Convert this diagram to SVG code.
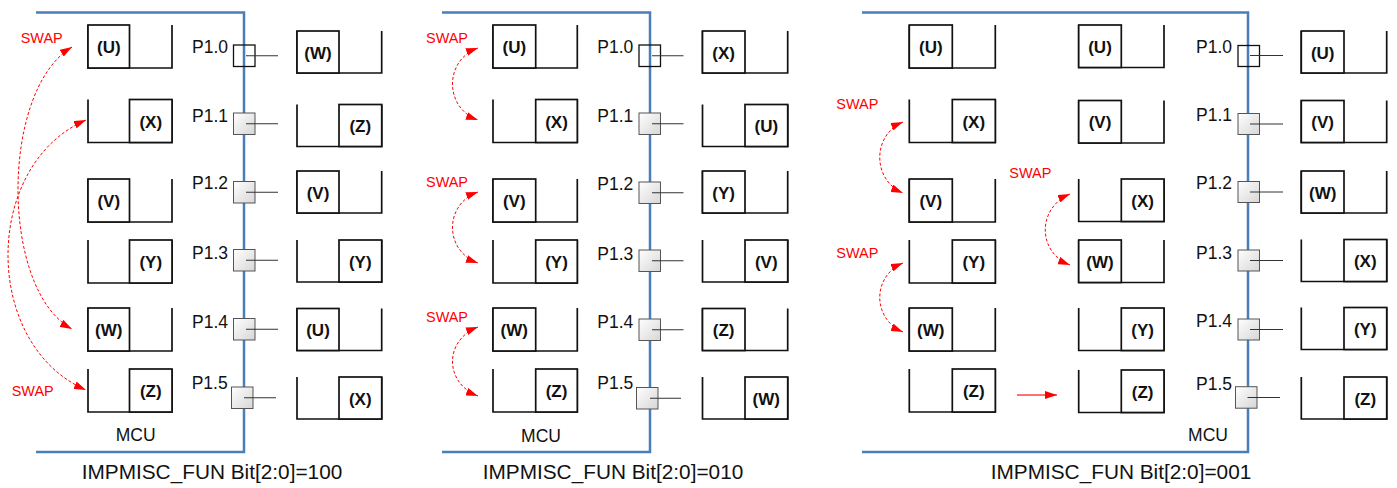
<svg xmlns="http://www.w3.org/2000/svg" width="1397" height="488" viewBox="0 0 1397 488">
<style>
.bus{fill:none;stroke:#4a7ebb;stroke-width:2.5}
.wall{fill:none;stroke:#111;stroke-width:1.7}
.ibox{fill:#fff;stroke:#111;stroke-width:1.7}
.lbl{font-family:"Liberation Sans",Arial,sans-serif;font-weight:bold;font-size:17px;text-anchor:middle;fill:#111}
.port0{fill:none;stroke:#111;stroke-width:1.3}
.port{fill:url(#pg);stroke:#555;stroke-width:1}
.pline{stroke:#333;stroke-width:1}
.plbl{font-family:"Liberation Sans",Arial,sans-serif;font-size:17.5px;text-anchor:end;fill:#111}
.mcu{font-family:"Liberation Sans",Arial,sans-serif;font-size:17.5px;text-anchor:middle;fill:#111}
.cap{font-family:"Liberation Sans",Arial,sans-serif;font-size:20.8px;text-anchor:middle;fill:#111}
.swap{font-family:"Liberation Sans",Arial,sans-serif;font-size:15.5px;fill:#ff0000}
.arc{fill:none;stroke:#ff0000;stroke-width:1;stroke-dasharray:3 2;marker-start:url(#ah);marker-end:url(#ah)}
.straight{fill:none;stroke:#ff4040;stroke-width:1.5;marker-end:url(#ah)}
</style>
<defs>
<linearGradient id="pg" x1="0" y1="0" x2="1" y2="1">
<stop offset="0" stop-color="#ffffff"/>
<stop offset="1" stop-color="#d6d6d6"/>
</linearGradient>
<marker id="ah" markerUnits="userSpaceOnUse" markerWidth="12" markerHeight="8" refX="12" refY="4" orient="auto-start-reverse" viewBox="0 0 12 8">
<path d="M0,0L12,4L0,8z" fill="#ff0000"/>
</marker>
</defs>

<!-- MCU boundaries -->
<g id="mcu1"><path class="bus" d="M36,12.5H244V452H36"/><text class="mcu" x="135.7" y="441">MCU</text></g>
<g id="mcu2"><path class="bus" d="M442,12.5H650V452H442"/><text class="mcu" x="541" y="441.5">MCU</text></g>
<g id="mcu3"><path class="bus" d="M862,12.5H1248V452H862"/><text class="mcu" x="1208" y="441">MCU</text></g>

<!-- Panel 1 left -->
<g id="p1l1"><path class="wall" d="M88,25V68H172V25"/><rect class="ibox" x="88" y="25" width="41.5" height="43"/><text class="lbl" x="108.8" y="53">(U)</text></g>
<g id="p1l2"><path class="wall" d="M88,99.5V142.5H172V99.5"/><rect class="ibox" x="129.5" y="99.5" width="42.5" height="43"/><text class="lbl" x="150.8" y="127.5">(X)</text></g>
<g id="p1l3"><path class="wall" d="M88,179V222H172V179"/><rect class="ibox" x="88" y="179" width="41.5" height="43"/><text class="lbl" x="108.8" y="207">(V)</text></g>
<g id="p1l4"><path class="wall" d="M88,240V283H172V240"/><rect class="ibox" x="129.5" y="240" width="42.5" height="43"/><text class="lbl" x="150.8" y="268">(Y)</text></g>
<g id="p1l5"><path class="wall" d="M88,308V351H172V308"/><rect class="ibox" x="88" y="308" width="41.5" height="43"/><text class="lbl" x="108.8" y="336">(W)</text></g>
<g id="p1l6"><path class="wall" d="M88,369V412H172V369"/><rect class="ibox" x="129.5" y="369" width="42.5" height="43"/><text class="lbl" x="150.8" y="397">(Z)</text></g>

<!-- Panel 1 ports -->
<g id="p1port0"><rect class="port0" x="233.5" y="45" width="21.5" height="21.5"/><line class="pline" x1="246" y1="55.75" x2="278" y2="55.75"/><text class="plbl" x="228" y="53.3">P1.0</text></g>
<g id="p1port1"><rect class="port" x="233.5" y="113" width="21.5" height="21.5"/><line class="pline" x1="246" y1="123.75" x2="278" y2="123.75"/><text class="plbl" x="228" y="121.6">P1.1</text></g>
<g id="p1port2"><rect class="port" x="233.5" y="181.5" width="21.5" height="21.5"/><line class="pline" x1="246" y1="192.25" x2="278" y2="192.25"/><text class="plbl" x="228" y="188.8">P1.2</text></g>
<g id="p1port3"><rect class="port" x="233.5" y="249.5" width="21.5" height="21.5"/><line class="pline" x1="246" y1="260.25" x2="278" y2="260.25"/><text class="plbl" x="228" y="259.3">P1.3</text></g>
<g id="p1port4"><rect class="port" x="233.5" y="318.5" width="21.5" height="21.5"/><line class="pline" x1="246" y1="329.25" x2="278" y2="329.25"/><text class="plbl" x="228" y="327.5">P1.4</text></g>
<g id="p1port5"><rect class="port" x="231.5" y="387" width="21.5" height="21.5"/><line class="pline" x1="244" y1="397.75" x2="276" y2="397.75"/><text class="plbl" x="227.7" y="388.5">P1.5</text></g>

<!-- Panel 1 right -->
<g id="p1r1"><path class="wall" d="M297,31V73H381.7V31"/><rect class="ibox" x="297" y="31" width="42" height="42"/><text class="lbl" x="318" y="58.5">(W)</text></g>
<g id="p1r2"><path class="wall" d="M297,104.5V146.5H381.7V104.5"/><rect class="ibox" x="339" y="104.5" width="42.7" height="42"/><text class="lbl" x="360.3" y="132">(Z)</text></g>
<g id="p1r3"><path class="wall" d="M297,171V213H381.7V171"/><rect class="ibox" x="297" y="171" width="42" height="42"/><text class="lbl" x="318" y="198.5">(V)</text></g>
<g id="p1r4"><path class="wall" d="M297,240V282H381.7V240"/><rect class="ibox" x="339" y="240" width="42.7" height="42"/><text class="lbl" x="360.3" y="267.5">(Y)</text></g>
<g id="p1r5"><path class="wall" d="M297,308.5V350.5H381.7V308.5"/><rect class="ibox" x="297" y="308.5" width="42" height="42"/><text class="lbl" x="318" y="336">(U)</text></g>
<g id="p1r6"><path class="wall" d="M297,377V419H381.7V377"/><rect class="ibox" x="339" y="377" width="42.7" height="42"/><text class="lbl" x="360.3" y="404.5">(X)</text></g>

<!-- Panel 2 left -->
<g id="p2l1"><path class="wall" d="M493,25V68H577.3V25"/><rect class="ibox" x="493" y="25" width="42.7" height="43"/><text class="lbl" x="514.3" y="53">(U)</text></g>
<g id="p2l2"><path class="wall" d="M493,99.5V142.5H577.3V99.5"/><rect class="ibox" x="535.7" y="99.5" width="41.6" height="43"/><text class="lbl" x="556.5" y="127.5">(X)</text></g>
<g id="p2l3"><path class="wall" d="M493,179V222H577.3V179"/><rect class="ibox" x="493" y="179" width="42.7" height="43"/><text class="lbl" x="514.3" y="207">(V)</text></g>
<g id="p2l4"><path class="wall" d="M493,240V283H577.3V240"/><rect class="ibox" x="535.7" y="240" width="41.6" height="43"/><text class="lbl" x="556.5" y="268">(Y)</text></g>
<g id="p2l5"><path class="wall" d="M493,308V351H577.3V308"/><rect class="ibox" x="493" y="308" width="42.7" height="43"/><text class="lbl" x="514.3" y="336">(W)</text></g>
<g id="p2l6"><path class="wall" d="M493,369V412H577.3V369"/><rect class="ibox" x="535.7" y="369" width="41.6" height="43"/><text class="lbl" x="556.5" y="397">(Z)</text></g>

<!-- Panel 2 ports -->
<g id="p2port0"><rect class="port0" x="639" y="45" width="21.5" height="21.5"/><line class="pline" x1="652" y1="55.75" x2="683.5" y2="55.75"/><text class="plbl" x="633.3" y="53.3">P1.0</text></g>
<g id="p2port1"><rect class="port" x="639" y="113" width="21.5" height="21.5"/><line class="pline" x1="652" y1="123.75" x2="683.5" y2="123.75"/><text class="plbl" x="633.3" y="121.6">P1.1</text></g>
<g id="p2port2"><rect class="port" x="639" y="182" width="21.5" height="21.5"/><line class="pline" x1="652" y1="192.75" x2="683.5" y2="192.75"/><text class="plbl" x="633.3" y="189.5">P1.2</text></g>
<g id="p2port3"><rect class="port" x="639" y="250" width="21.5" height="21.5"/><line class="pline" x1="652" y1="260.75" x2="683.5" y2="260.75"/><text class="plbl" x="633.3" y="259.8">P1.3</text></g>
<g id="p2port4"><rect class="port" x="639" y="319" width="21.5" height="21.5"/><line class="pline" x1="652" y1="329.75" x2="683.5" y2="329.75"/><text class="plbl" x="633.3" y="328">P1.4</text></g>
<g id="p2port5"><rect class="port" x="636.5" y="387.5" width="21.5" height="21.5"/><line class="pline" x1="650" y1="398.25" x2="681" y2="398.25"/><text class="plbl" x="633.3" y="389.2">P1.5</text></g>

<!-- Panel 2 right -->
<g id="p2r1"><path class="wall" d="M702.5,31V73H787.7V31"/><rect class="ibox" x="702.5" y="31" width="42.5" height="42"/><text class="lbl" x="723.7" y="58.5">(X)</text></g>
<g id="p2r2"><path class="wall" d="M702.5,104.5V146.5H787.7V104.5"/><rect class="ibox" x="745" y="104.5" width="42.7" height="42"/><text class="lbl" x="766.3" y="132">(U)</text></g>
<g id="p2r3"><path class="wall" d="M702.5,171V213H787.7V171"/><rect class="ibox" x="702.5" y="171" width="42.5" height="42"/><text class="lbl" x="723.7" y="198.5">(Y)</text></g>
<g id="p2r4"><path class="wall" d="M702.5,240V282H787.7V240"/><rect class="ibox" x="745" y="240" width="42.7" height="42"/><text class="lbl" x="766.3" y="267.5">(V)</text></g>
<g id="p2r5"><path class="wall" d="M702.5,308.5V350.5H787.7V308.5"/><rect class="ibox" x="702.5" y="308.5" width="42.5" height="42"/><text class="lbl" x="723.7" y="336">(Z)</text></g>
<g id="p2r6"><path class="wall" d="M702.5,377V419H787.7V377"/><rect class="ibox" x="745" y="377" width="42.7" height="42"/><text class="lbl" x="766.3" y="404.5">(W)</text></g>

<!-- Panel 3 left -->
<g id="p3l1"><path class="wall" d="M909.3,25V68H995.3V25"/><rect class="ibox" x="909.3" y="25" width="43" height="43"/><text class="lbl" x="930.8" y="53">(U)</text></g>
<g id="p3l2"><path class="wall" d="M909.3,99.5V142.5H995.3V99.5"/><rect class="ibox" x="952.3" y="99.5" width="43" height="43"/><text class="lbl" x="973.8" y="127.5">(X)</text></g>
<g id="p3l3"><path class="wall" d="M909.3,179V222H995.3V179"/><rect class="ibox" x="909.3" y="179" width="43" height="43"/><text class="lbl" x="930.8" y="207">(V)</text></g>
<g id="p3l4"><path class="wall" d="M909.3,240V283H995.3V240"/><rect class="ibox" x="952.3" y="240" width="43" height="43"/><text class="lbl" x="973.8" y="268">(Y)</text></g>
<g id="p3l5"><path class="wall" d="M909.3,308V351H995.3V308"/><rect class="ibox" x="909.3" y="308" width="43" height="43"/><text class="lbl" x="930.8" y="336">(W)</text></g>
<g id="p3l6"><path class="wall" d="M909.3,369V412H995.3V369"/><rect class="ibox" x="952.3" y="369" width="43" height="43"/><text class="lbl" x="973.8" y="397">(Z)</text></g>

<!-- Panel 3 middle -->
<g id="p3m1"><path class="wall" d="M1078.7,25V67.5H1164V25"/><rect class="ibox" x="1078.7" y="25" width="42.6" height="42.5"/><text class="lbl" x="1100" y="52.5">(U)</text></g>
<g id="p3m2"><path class="wall" d="M1078.7,100.5V143H1164V100.5"/><rect class="ibox" x="1078.7" y="100.5" width="42.6" height="42.5"/><text class="lbl" x="1100" y="128">(V)</text></g>
<g id="p3m3"><path class="wall" d="M1078.7,179V221.5H1164V179"/><rect class="ibox" x="1121.3" y="179" width="42.7" height="42.5"/><text class="lbl" x="1142.7" y="206.5">(X)</text></g>
<g id="p3m4"><path class="wall" d="M1078.7,240V282.5H1164V240"/><rect class="ibox" x="1078.7" y="240" width="42.6" height="42.5"/><text class="lbl" x="1100" y="267.5">(W)</text></g>
<g id="p3m5"><path class="wall" d="M1078.7,308V350.5H1164V308"/><rect class="ibox" x="1121.3" y="308" width="42.7" height="42.5"/><text class="lbl" x="1142.7" y="335.5">(Y)</text></g>
<g id="p3m6"><path class="wall" d="M1078.7,370V412.5H1164V370"/><rect class="ibox" x="1121.3" y="370" width="42.7" height="42.5"/><text class="lbl" x="1142.7" y="397.5">(Z)</text></g>

<!-- Panel 3 ports -->
<g id="p3port0"><rect class="port0" x="1238" y="45.5" width="21.5" height="21"/><line class="pline" x1="1250" y1="55.5" x2="1283" y2="55.5"/><text class="plbl" x="1232" y="53">P1.0</text></g>
<g id="p3port1"><rect class="port" x="1238" y="113.5" width="21.5" height="21"/><line class="pline" x1="1250" y1="124" x2="1283" y2="124"/><text class="plbl" x="1232" y="120.5">P1.1</text></g>
<g id="p3port2"><rect class="port" x="1238" y="181.5" width="21.5" height="21"/><line class="pline" x1="1250" y1="192" x2="1283" y2="192"/><text class="plbl" x="1232" y="188.5">P1.2</text></g>
<g id="p3port3"><rect class="port" x="1238" y="250" width="21.5" height="21"/><line class="pline" x1="1250" y1="260.5" x2="1283" y2="260.5"/><text class="plbl" x="1232" y="258.5">P1.3</text></g>
<g id="p3port4"><rect class="port" x="1238" y="319" width="21.5" height="21"/><line class="pline" x1="1250" y1="329.5" x2="1283" y2="329.5"/><text class="plbl" x="1232" y="326.5">P1.4</text></g>
<g id="p3port5"><rect class="port" x="1235.5" y="386.7" width="21.5" height="21.5"/><line class="pline" x1="1247.5" y1="397.5" x2="1280" y2="397.5"/><text class="plbl" x="1232" y="389.5">P1.5</text></g>

<!-- Panel 3 right -->
<g id="p3r1"><path class="wall" d="M1301.3,31V73H1386.7V31"/><rect class="ibox" x="1301.3" y="31" width="42.7" height="42"/><text class="lbl" x="1322.7" y="58.5">(U)</text></g>
<g id="p3r2"><path class="wall" d="M1301.3,100.5V142.5H1386.7V100.5"/><rect class="ibox" x="1301.3" y="100.5" width="42.7" height="42"/><text class="lbl" x="1322.7" y="128">(V)</text></g>
<g id="p3r3"><path class="wall" d="M1301.3,171V213H1386.7V171"/><rect class="ibox" x="1301.3" y="171" width="42.7" height="42"/><text class="lbl" x="1322.7" y="198.5">(W)</text></g>
<g id="p3r4"><path class="wall" d="M1301.3,239.5V281.5H1386.7V239.5"/><rect class="ibox" x="1344" y="239.5" width="42.7" height="42"/><text class="lbl" x="1365.3" y="267">(X)</text></g>
<g id="p3r5"><path class="wall" d="M1301.3,307.5V349.5H1386.7V307.5"/><rect class="ibox" x="1344" y="307.5" width="42.7" height="42"/><text class="lbl" x="1365.3" y="335">(Y)</text></g>
<g id="p3r6"><path class="wall" d="M1301.3,377V419H1386.7V377"/><rect class="ibox" x="1344" y="377" width="42.7" height="42"/><text class="lbl" x="1365.3" y="404.5">(Z)</text></g>

<!-- SWAP labels -->
<g id="swaplabels">
<text class="swap" x="20.7" y="43.3" textLength="42" lengthAdjust="spacingAndGlyphs">SWAP</text>
<text class="swap" x="11.7" y="396" textLength="42" lengthAdjust="spacingAndGlyphs">SWAP</text>
<text class="swap" x="426" y="43.3" textLength="42" lengthAdjust="spacingAndGlyphs">SWAP</text>
<text class="swap" x="426" y="187.3" textLength="42" lengthAdjust="spacingAndGlyphs">SWAP</text>
<text class="swap" x="426" y="321.7" textLength="42" lengthAdjust="spacingAndGlyphs">SWAP</text>
<text class="swap" x="836.3" y="109.3" textLength="42" lengthAdjust="spacingAndGlyphs">SWAP</text>
<text class="swap" x="836.3" y="258.3" textLength="42" lengthAdjust="spacingAndGlyphs">SWAP</text>
<text class="swap" x="1009.3" y="177.7" textLength="42" lengthAdjust="spacingAndGlyphs">SWAP</text>
</g>

<!-- Connectors -->
<g id="connectors">
<path class="arc" d="M72,47C0,90 0,290 72,329"/>
<path class="arc" d="M86,120C-18,165 -18,345 86,390"/>
<path class="arc" d="M478,48C444,60 444,108 478,120"/>
<path class="arc" d="M478,192C444,204 444,251 478,263"/>
<path class="arc" d="M478,327C444,340 444,383 478,396"/>
<path class="arc" d="M903,122C872,135 872,180 903,193"/>
<path class="arc" d="M903,263C872,276 872,319 903,332"/>
<path class="arc" d="M1070,194C1037,208 1037,252 1070,265"/>
<path class="straight" d="M1017,395H1057"/>
</g>

<!-- Captions -->
<g id="captions">
<text class="cap" x="212" y="479">IMPMISC_FUN Bit[2:0]=100</text>
<text class="cap" x="613" y="479">IMPMISC_FUN Bit[2:0]=010</text>
<text class="cap" x="1121" y="479">IMPMISC_FUN Bit[2:0]=001</text>
</g>
</svg>
